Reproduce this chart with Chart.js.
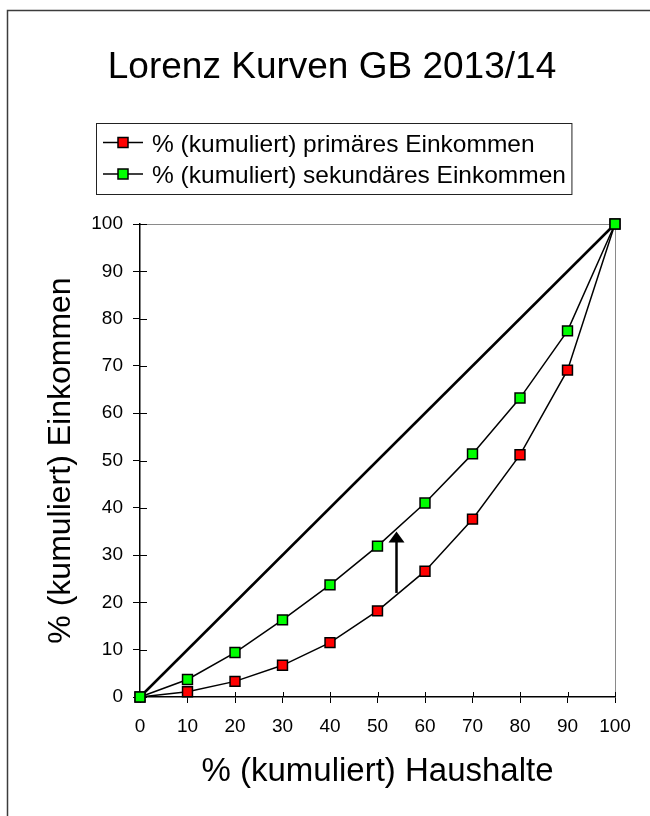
<!DOCTYPE html>
<html>
<head>
<meta charset="utf-8">
<script src="https://cdn.jsdelivr.net/npm/chart.js@4/dist/chart.umd.min.js"></script>
<style>
body { margin: 0; background: #fff; }
</style>
</head>
<body>
<canvas id="lorenz" width="650" height="816"></canvas>
<script>
// cumulative share of households (x) and of income (y), GB 2013/14
var households = [0, 10, 20, 30, 40, 50, 60, 70, 80, 90, 100];
var primaryIncome = [0, 1.1, 3.3, 6.7, 11.5, 18.2, 26.6, 37.6, 51.2, 69.1, 100];
var secondaryIncome = [0, 3.7, 9.4, 16.3, 23.7, 31.9, 41.0, 51.4, 63.2, 77.4, 100];
var equalityX = [0, 100];
var equalityY = [0, 100];
var axisTicks = [0, 10, 20, 30, 40, 50, 60, 70, 80, 90, 100];
// the arrow between the two curves
var arrowX = 54;
var arrowFrom = 22;
var arrowTo = 35;

var FONT = "'Liberation Sans', Arial, sans-serif";
Chart.defaults.font.family = FONT;
Chart.defaults.color = '#000';

function points(xs, ys) {
    return xs.map(function (x, i) { return { x: x, y: ys[i] }; });
}

var extras = {
    id: 'extras',
    beforeDatasetsDraw: function (chart) {
        var ctx = chart.ctx, a = chart.chartArea;
        var sx = chart.scales.x, sy = chart.scales.y;
        ctx.save();
        // grey top and right edge of the plot area
        ctx.strokeStyle = '#8a8a8a';
        ctx.lineWidth = 1;
        ctx.beginPath();
        ctx.moveTo(a.left, a.top + 0.5);
        ctx.lineTo(a.right + 0.5, a.top + 0.5);
        ctx.lineTo(a.right + 0.5, a.bottom);
        ctx.stroke();
        // inner half of the crossing tick marks
        ctx.strokeStyle = '#000';
        ctx.lineWidth = 1;
        axisTicks.forEach(function (v) {
            var px = Math.round(sx.getPixelForValue(v)) + 0.5;
            ctx.beginPath(); ctx.moveTo(px, a.bottom); ctx.lineTo(px, a.bottom - 5); ctx.stroke();
            var py = Math.round(sy.getPixelForValue(v)) + 0.5;
            ctx.beginPath(); ctx.moveTo(a.left, py); ctx.lineTo(a.left + 7, py); ctx.stroke();
        });
        ctx.restore();
    },
    afterDatasetsDraw: function (chart) {
        var ctx = chart.ctx;
        var ax = chart.scales.x.getPixelForValue(arrowX);
        var y0 = chart.scales.y.getPixelForValue(arrowFrom);
        var y1 = chart.scales.y.getPixelForValue(arrowTo);
        ctx.save();
        ctx.strokeStyle = '#000';
        ctx.fillStyle = '#000';
        ctx.lineWidth = 2.5;
        ctx.beginPath(); ctx.moveTo(ax, y0); ctx.lineTo(ax, y1 + 8); ctx.stroke();
        ctx.beginPath();
        ctx.moveTo(ax, y1);
        ctx.lineTo(ax - 8, y1 + 11);
        ctx.lineTo(ax + 8, y1 + 11);
        ctx.closePath();
        ctx.fill();
        ctx.restore();
    },
    afterDraw: function (chart) {
        var ctx = chart.ctx;
        ctx.save();
        // outer frame (only left and top edges are in view)
        ctx.strokeStyle = '#3c3c3c';
        ctx.lineWidth = 1.5;
        ctx.beginPath();
        ctx.moveTo(7.5, 816);
        ctx.lineTo(7.5, 10.5);
        ctx.lineTo(650, 10.5);
        ctx.stroke();

        // title
        ctx.fillStyle = '#000';
        ctx.font = '37px ' + FONT;
        ctx.textAlign = 'center';
        ctx.textBaseline = 'alphabetic';
        ctx.fillText('Lorenz Kurven GB 2013/14', 332, 78);

        // legend
        var items = chart.data.datasets.filter(function (d) { return d.inLegend; });
        ctx.font = '24.5px ' + FONT;
        ctx.textAlign = 'left';
        var textX = 152, widest = 0;
        items.forEach(function (d) { widest = Math.max(widest, ctx.measureText(d.label).width); });
        ctx.strokeStyle = '#222';
        ctx.lineWidth = 1;
        ctx.strokeRect(96.5, 123.5, textX + widest + 6 - 96.5, 71);
        items.forEach(function (d, i) {
            var ry = 142.5 + i * 31.5;
            ctx.strokeStyle = '#000';
            ctx.lineWidth = 1.5;
            ctx.beginPath(); ctx.moveTo(103, ry); ctx.lineTo(143, ry); ctx.stroke();
            ctx.fillStyle = d.backgroundColor;
            ctx.fillRect(118, ry - 5, 10, 10);
            ctx.strokeRect(118, ry - 5, 10, 10);
            ctx.fillStyle = '#000';
            ctx.fillText(d.label, textX, ry + 9);
        });
        ctx.restore();
    }
};

var ctx = document.getElementById('lorenz');
var myChart = new Chart(ctx, {
    type: 'line',
    data: {
        datasets: [{
            label: '% (kumuliert) primäres Einkommen',
            inLegend: true,
            data: points(households, primaryIncome),
            borderColor: '#000',
            borderWidth: 1.5,
            backgroundColor: '#ff0000',
            pointStyle: 'rect',
            pointRadius: 7,
            pointBorderColor: '#000',
            pointBorderWidth: 1.5,
            clip: false,
            order: 1
        }, {
            label: '% (kumuliert) sekundäres Einkommen',
            inLegend: true,
            data: points(households, secondaryIncome),
            borderColor: '#000',
            borderWidth: 1.5,
            backgroundColor: '#00ff00',
            pointStyle: 'rect',
            pointRadius: 7,
            pointBorderColor: '#000',
            pointBorderWidth: 1.5,
            clip: false,
            order: 0
        }, {
            label: 'Gleichverteilung',
            inLegend: false,
            data: points(equalityX, equalityY),
            borderColor: '#000',
            borderWidth: 2.5,
            pointRadius: 0,
            clip: false,
            order: 2
        }]
    },
    options: {
        responsive: false,
        animation: false,
        layout: {
            padding: { top: 224, right: 35, left: 0, bottom: 0 }
        },
        plugins: {
            legend: { display: false },
            title: { display: false },
            tooltip: { enabled: false }
        },
        scales: {
            x: {
                type: 'linear',
                min: 0,
                max: 100,
                afterBuildTicks: function (scale) {
                    scale.ticks = axisTicks.map(function (v) { return { value: v }; });
                },
                afterFit: function (scale) { scale.height = 119; },
                grid: {
                    drawOnChartArea: false,
                    color: '#000',
                    tickLength: 6
                },
                border: { color: '#000', width: 1.5 },
                ticks: {
                    font: { size: 19 },
                    padding: 12,
                    maxRotation: 0
                },
                title: {
                    display: true,
                    text: '% (kumuliert) Haushalte',
                    font: { size: 33 },
                    padding: { top: 0, bottom: 24 }
                }
            },
            y: {
                type: 'linear',
                min: 0,
                max: 100,
                afterBuildTicks: function (scale) {
                    scale.ticks = axisTicks.map(function (v) { return { value: v }; });
                },
                afterFit: function (scale) { scale.width = 140; },
                grid: {
                    drawOnChartArea: false,
                    color: '#000',
                    tickLength: 7
                },
                border: { color: '#000', width: 1.5 },
                ticks: {
                    font: { size: 19 },
                    padding: 10
                },
                title: {
                    display: true,
                    text: '% (kumuliert) Einkommen',
                    font: { size: 32 },
                    padding: { top: 42, bottom: 0 }
                }
            }
        }
    },
    plugins: [extras]
});
</script>
</body>
</html>
